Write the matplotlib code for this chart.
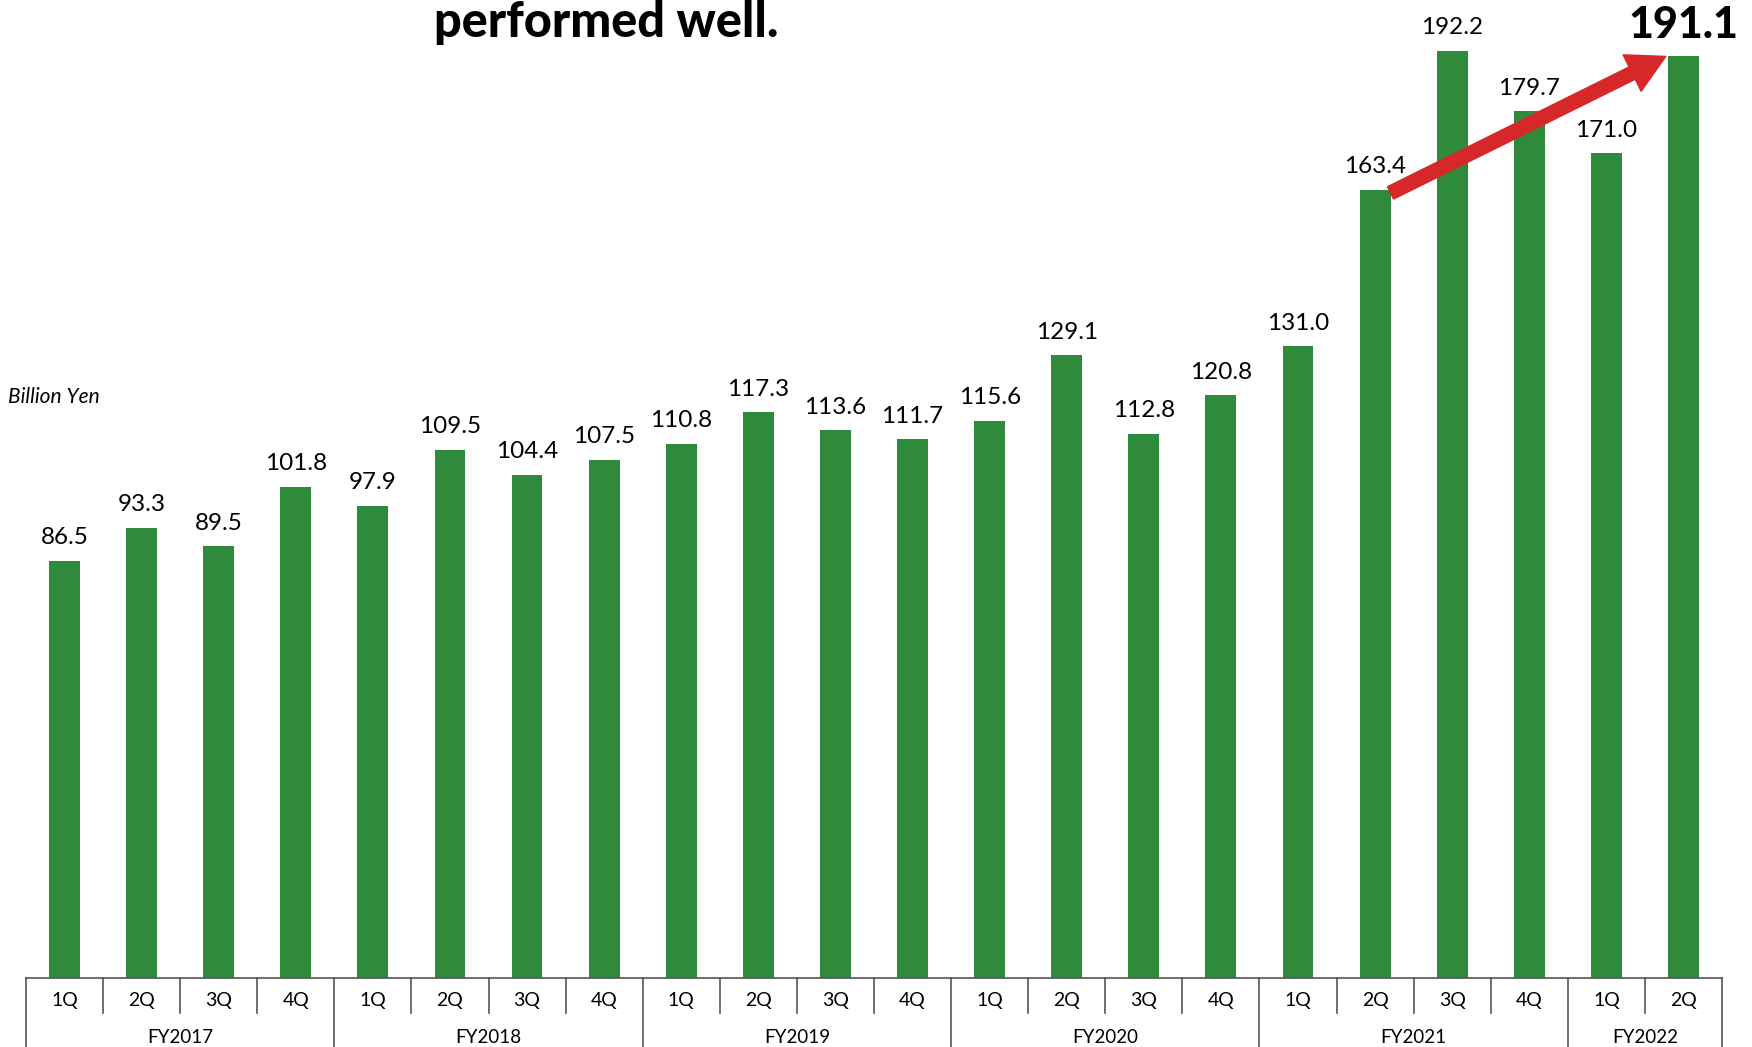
import matplotlib.pyplot as plt

# quarterly values, billion yen
quarters = ["1Q", "2Q", "3Q", "4Q", "1Q", "2Q", "3Q", "4Q", "1Q", "2Q", "3Q",
            "4Q", "1Q", "2Q", "3Q", "4Q", "1Q", "2Q", "3Q", "4Q", "1Q", "2Q"]
values = [86.5, 93.3, 89.5, 101.8, 97.9, 109.5, 104.4, 107.5, 110.8, 117.3,
          113.6, 111.7, 115.6, 129.1, 112.8, 120.8, 131.0, 163.4, 192.2,
          179.7, 171.0, 191.1]
years = ["FY2017", "FY2018", "FY2019", "FY2020", "FY2021", "FY2022"]
year_counts = [4, 4, 4, 4, 4, 2]

green = "#2e8b3c"
red = "#d62828"
linec = "#555555"

plt.rcParams['font.family'] = ['Lato', 'DejaVu Sans']

fig = plt.figure(figsize=(17.52, 10.47), dpi=100)
ax = fig.add_axes([0.0148, 0.0659, 0.9681, 0.9341])

x = list(range(len(values)))
ax.bar(x, values, width=0.4, color=green)
ax.set_xlim(-0.5, len(values) - 0.5)
ax.set_ylim(0, 202.8)

# value labels
for i, v in enumerate(values):
    if i == len(values) - 1:
        ax.annotate(f"{v:.1f}", (i, v), xytext=(0, 13), textcoords="offset points",
                    ha="center", va="baseline", fontsize=31, fontweight="black")
    else:
        ax.annotate(f"{v:.1f}", (i, v), xytext=(0, 12), textcoords="offset points",
                    ha="center", va="baseline", fontsize=17.5)

# red trend arrow from 2Q FY2021 to 2Q FY2022
ax.annotate("", xy=(x[-1] - 0.23, values[-1]), xytext=(x[17] + 0.2, values[17] - 0.6),
            arrowprops=dict(arrowstyle="simple,head_length=0.6,head_width=0.65,tail_width=0.22",
                            mutation_scale=45, color=red, shrinkA=0, shrinkB=0))

# hide default axes decorations
for s in ["top", "right", "left"]:
    ax.spines[s].set_visible(False)
ax.spines["bottom"].set_color(linec)
ax.spines["bottom"].set_linewidth(1.2)
ax.set_xticks([])
ax.set_yticks([])

# category table under the axis
tr = ax.get_xaxis_transform()
q_bottom = -0.0358
y_bottom = -0.075
for i, q in enumerate(quarters):
    ax.text(i, -0.0235, q, transform=tr, ha="center", va="center", fontsize=14)
start = 0
bounds = [-0.5]
for name, n in zip(years, year_counts):
    mid = start + (n - 1) / 2
    ax.text(mid, -0.0613, name, transform=tr, ha="center", va="center", fontsize=13.5)
    for k in range(1, n):
        ax.plot([start + k - 0.5] * 2, [0, q_bottom], transform=tr, color=linec,
                lw=1.2, clip_on=False)
    start += n
    bounds.append(start - 0.5)
for b in bounds:
    ax.plot([b, b], [0, y_bottom], transform=tr, color=linec, lw=1.2, clip_on=False)

fig.text(0.346, 0.9647, "performed well.", ha="center", va="baseline",
         fontsize=35, fontweight="black")
fig.text(0.0046, 0.615, "Billion Yen", ha="left", va="baseline",
         fontsize=15, style="italic")

fig.savefig("out.png", dpi=100)
